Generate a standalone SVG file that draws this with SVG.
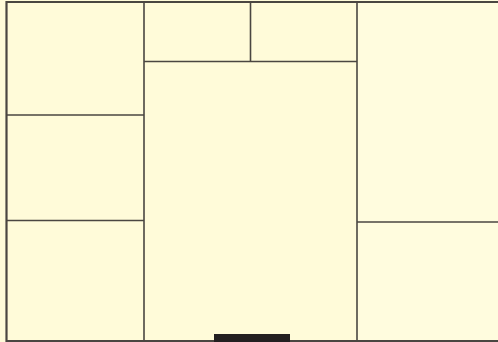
<svg xmlns="http://www.w3.org/2000/svg" width="498" height="342" viewBox="0 0 498 342">
<style>
.w{stroke:#4a4641;stroke-width:1.6;fill:none}
.o{stroke:#4a4641;stroke-width:2.2;fill:none}
</style>
<rect x="0" y="0" width="498" height="342" fill="#fffbd9"/>
<rect x="357" y="0" width="141" height="342" fill="#fffcde"/>
<g id="walls">
<line class="o" x1="6" y1="2" x2="498" y2="2"/>
<line class="o" x1="6.5" y1="1" x2="6.5" y2="342"/>
<line class="o" x1="6" y1="341" x2="498" y2="341"/>
<line class="w" x1="144" y1="1" x2="144" y2="341"/>
<line class="w" x1="6" y1="115" x2="144" y2="115"/>
<line class="w" x1="6" y1="220.5" x2="144" y2="220.5"/>
<line class="w" x1="144" y1="61.5" x2="357" y2="61.5"/>
<line class="w" x1="250.5" y1="1" x2="250.5" y2="61.5"/>
<line class="w" x1="357" y1="1" x2="357" y2="341"/>
<line class="w" x1="357" y1="222" x2="498" y2="222"/>
</g>
<rect id="door" x="214" y="334" width="76" height="8" fill="#231f20"/>
</svg>
